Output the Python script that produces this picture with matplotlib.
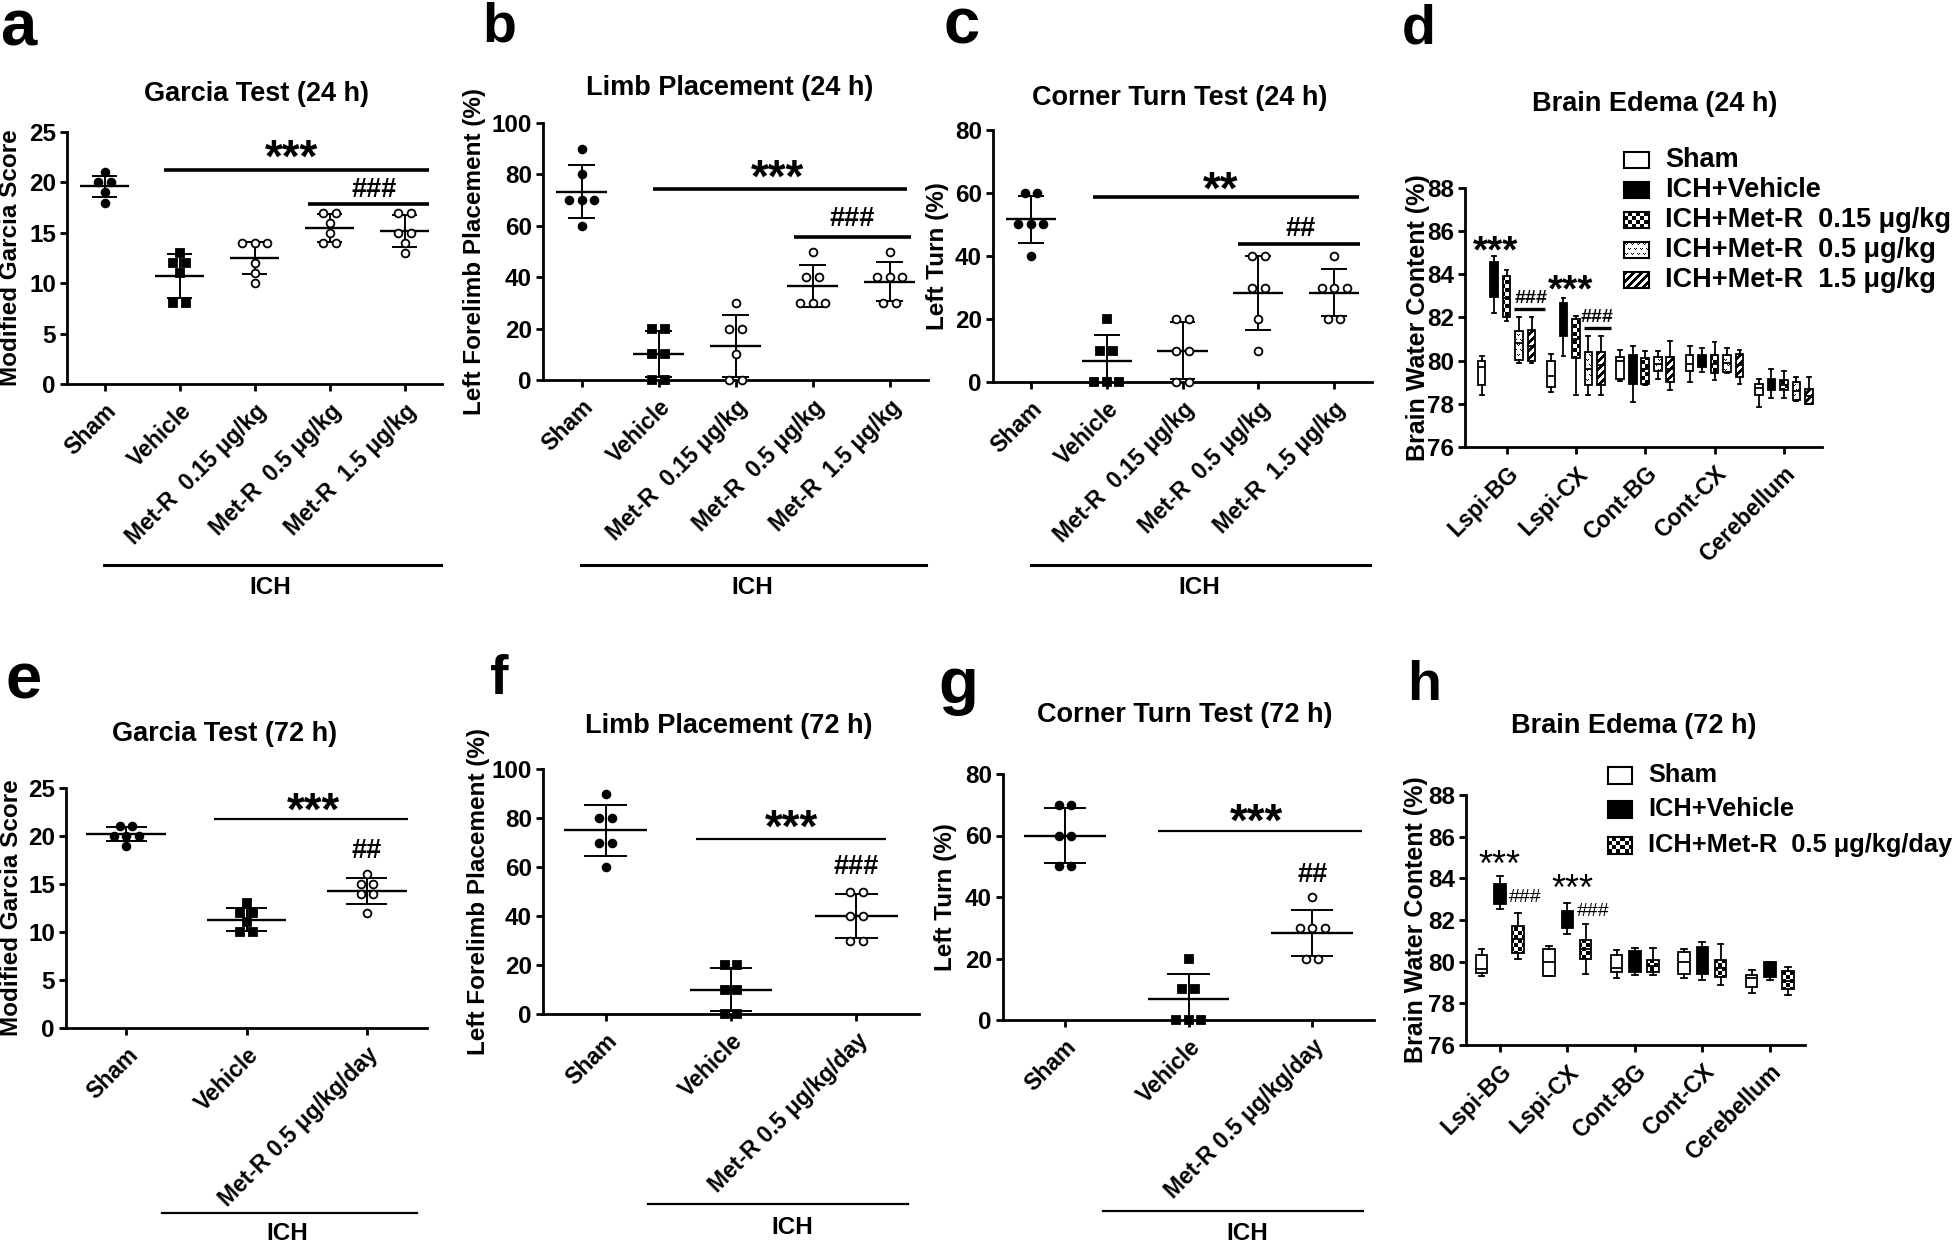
import numpy as np
import matplotlib
matplotlib.use("Agg")
import matplotlib.pyplot as plt
from matplotlib.lines import Line2D

plt.rcParams['font.family'] = ['Liberation Sans', 'DejaVu Sans']
plt.rcParams['font.weight'] = 'bold'
plt.rcParams['axes.labelweight'] = 'bold'

W, H = 1960, 1242

# ---------------- data ----------------
groups_24 = ["Sham", "Vehicle", "Met-R  0.15 μg/kg", "Met-R  0.5 μg/kg", "Met-R  1.5 μg/kg"]
groups_72 = ["Sham", "Vehicle", "Met-R 0.5 μg/kg/day"]
regions = ["Lspi-BG", "Lspi-CX", "Cont-BG", "Cont-CX", "Cerebellum"]

# a: Garcia 24 h
garcia24 = [[21, 20, 20, 19, 18], [13, 12, 12, 11, 8, 8], [14, 14, 14, 12, 11, 10],
            [17, 17, 16, 15, 14, 14], [17, 17, 15, 15, 14, 13]]
garcia24_mean = [19.6, 10.7, 12.5, 15.5, 15.2]
garcia24_sd = [1.05, 2.15, 1.6, 1.4, 1.6]
# b: limb placement 24 h
limb24 = [[90, 80, 70, 70, 70, 60], [20, 20, 10, 10, 0, 0], [30, 20, 20, 10, 0, 0],
          [50, 40, 40, 30, 30, 30], [50, 40, 40, 40, 30, 30]]
limb24_mean = [73.3, 10.0, 13.3, 36.7, 38.3]
limb24_sd = [10.3, 8.9, 12.1, 8.2, 7.5]
# c: corner turn 24 h
corner24 = [[60, 60, 50, 50, 50, 40], [20, 10, 10, 0, 0, 0], [20, 20, 10, 10, 0, 0],
            [40, 40, 30, 30, 20, 10], [40, 30, 30, 30, 20, 20]]
corner24_mean = [51.7, 6.7, 10.0, 28.3, 28.3]
corner24_sd = [7.5, 8.2, 8.9, 11.7, 7.5]
# e: Garcia 72 h
garcia72 = [[21, 21, 20, 20, 20, 19], [13, 12, 12, 11, 10, 10], [16, 15, 15, 14, 14, 12]]
garcia72_mean = [20.2, 11.3, 14.3]
garcia72_sd = [0.75, 1.2, 1.37]
# f: limb placement 72 h
limb72 = [[90, 80, 80, 70, 70, 60], [20, 20, 10, 10, 0, 0], [50, 50, 40, 40, 30, 30]]
limb72_mean = [75.0, 10.0, 40.0]
limb72_sd = [10.5, 8.9, 8.9]
# g: corner turn 72 h
corner72 = [[70, 70, 60, 60, 50, 50], [20, 10, 10, 0, 0, 0], [40, 30, 30, 30, 20, 20]]
corner72_mean = [60.0, 6.7, 28.3]
corner72_sd = [8.9, 8.2, 7.5]

# d: brain water 24 h, [region][treatment]
d_lo = [[78.4, 82.2, 81.85, 79.9, 79.9], [78.55, 80.2, 78.42, 78.42, 78.42],
        [79.05, 78.1, 78.85, 79.17, 78.64], [79.0, 79.48, 79.12, 79.45, 78.9],
        [77.87, 78.28, 78.28, 78.14, 78.01]]
d_q1 = [[78.85, 82.95, 82.0, 80.05, 80.0], [78.78, 81.15, 80.12, 78.85, 78.85],
        [79.17, 78.9, 78.9, 79.53, 79.0], [79.53, 79.71, 79.44, 79.48, 79.26],
        [78.4, 78.64, 78.64, 78.19, 78.01]]
d_med = [[79.7, 83.8, 82.9, 80.8, 80.7], [79.3, 82.0, 81.0, 79.6, 79.8],
         [80.0, 79.6, 79.6, 79.85, 79.6], [79.83, 80.0, 79.85, 79.9, 79.8],
         [78.73, 78.9, 78.85, 78.6, 78.35]]
d_q3 = [[80.0, 84.55, 83.92, 81.38, 81.4], [80.0, 82.69, 81.92, 80.38, 80.38],
        [80.15, 80.28, 80.12, 80.15, 80.15], [80.28, 80.25, 80.28, 80.28, 80.31],
        [78.9, 79.17, 79.12, 79.03, 78.69]]
d_hi = [[80.2, 84.85, 84.2, 82.0, 82.0], [80.3, 82.92, 82.05, 81.15, 81.15],
        [80.5, 80.7, 80.43, 80.43, 80.89], [80.66, 80.58, 80.86, 80.58, 80.5],
        [79.17, 79.6, 79.53, 79.26, 79.26]]
d_legend = ["Sham", "ICH+Vehicle", "ICH+Met-R  0.15 μg/kg", "ICH+Met-R  0.5 μg/kg", "ICH+Met-R  1.5 μg/kg"]

# h: brain water 72 h
h_lo = [[79.29, 82.55, 80.15], [79.29, 81.35, 79.42], [79.23, 79.38, 79.38],
        [79.23, 79.14, 78.86], [78.49, 79.14, 78.4]]
h_q1 = [[79.45, 82.78, 80.43], [79.32, 81.63, 80.15], [79.51, 79.51, 79.51],
        [79.42, 79.42, 79.27], [78.77, 79.27, 78.68]]
h_med = [[79.64, 83.3, 81.1], [80.0, 82.0, 80.62], [79.69, 80.0, 79.8],
         [80.0, 80.0, 79.7], [79.23, 79.6, 79.05]]
h_q3 = [[80.3, 83.75, 81.72], [80.62, 82.43, 81.04], [80.34, 80.52, 80.06],
        [80.47, 80.71, 80.06], [79.36, 79.97, 79.55]]
h_hi = [[80.62, 84.12, 82.33], [80.76, 82.83, 81.82], [80.56, 80.65, 80.67],
        [80.62, 80.93, 80.84], [79.6, 80.0, 79.75]]
h_legend = ["Sham", "ICH+Vehicle", "ICH+Met-R  0.5 μg/kg/day"]

fig = plt.figure(figsize=(W / 100, H / 100), dpi=100)


def add_axes_px(left, right, top, bottom):
    return fig.add_axes([left / W, 1 - bottom / H, (right - left) / W, (bottom - top) / H])


def style(ax):
    for s in ["top", "right"]:
        ax.spines[s].set_visible(False)
    for s in ["left", "bottom"]:
        ax.spines[s].set_linewidth(2)
    ax.tick_params(width=2, length=5, labelsize=17.5, pad=3)


def swarm(vals):
    # side-by-side offsets for equal values (unit spacing)
    vals = np.asarray(vals, dtype=float)
    offs = np.zeros(len(vals))
    for v in np.unique(vals):
        idx = np.where(vals == v)[0]
        offs[idx] = np.arange(len(idx)) - (len(idx) - 1) / 2
    return offs


def scatter_panel(box, groups, values, means, sds, ylim, yticks, ylabel, label_x, title, title_xy, xsize):
    left, right, top, bottom = box
    ax = add_axes_px(left, right, top, bottom)
    n = len(groups)
    ppu = (right - left) / n
    markers = ["o", "s"] + ["o"] * (n - 2)
    faces = ["k", "k"] + ["white"] * (n - 2)
    for i, vals in enumerate(values):
        x = i + swarm(vals) * 12.5 / ppu
        ax.plot(x, vals, ls="none", marker=markers[i], ms=5.6 if markers[i] == "o" else 5.4,
                mfc=faces[i], mec="k", mew=1.3, clip_on=False, zorder=4)
        m, s = means[i], sds[i]
        ax.hlines(m, i - 0.33, i + 0.33, color="k", lw=1.7, zorder=3)
        ax.vlines(i, m - s, m + s, color="k", lw=1.4, zorder=3)
        ax.hlines([m - s, m + s], i - 0.17, i + 0.17, color="k", lw=1.4, zorder=3)
    ax.set_xlim(-0.5, n - 0.5)
    ax.set_ylim(*ylim)
    ax.set_yticks(yticks)
    style(ax)
    ax.set_xticks(range(n))
    ax.set_xticklabels(groups, rotation=45, ha="right", rotation_mode="anchor", fontsize=xsize)
    ax.tick_params(axis="x", pad=6)
    ax.set_ylabel(ylabel, fontsize=17.5, va="center")
    ax.yaxis.set_label_coords((label_x - left) / (right - left), 0.5)
    fig.text(title_xy[0] / W, 1 - title_xy[1] / H, title, fontsize=19.5, ha="center", va="center")
    return ax


def mark(ax, x, y, s, size, lift, **kw):
    # y is the visual centre of the glyphs
    ax.annotate(s, (x, y), xytext=(0, -lift * size), textcoords="offset points",
                ha=kw.pop("ha", "center"), va="baseline", fontsize=size, annotation_clip=False, **kw)


def sig_line(ax, x0, x1, y, lw):
    ax.plot([x0, x1], [y, y], color="k", lw=lw, clip_on=False, solid_capstyle="butt")


def pattern(kind, w, h):
    r, c = np.mgrid[0:h, 0:w]
    if kind == "checker":
        return ((r // 4 + c // 4) % 2).astype(float)
    if kind == "stripe":
        return (((r + c) % 8) < 4).astype(float)
    cc = (c + 3 * ((r // 5) % 2)) % 6
    rr = r % 5
    return (((rr == 1) & ((cc == 1) | (cc == 3))) | ((rr == 2) & (cc == 2))).astype(float)


def box_panel(box, lo, q1, med, q3, hi, fills, offsets, width, xlim, title, title_xy, label_x):
    left, right, top, bottom = box
    ax = add_axes_px(left, right, top, bottom)
    wpx, hpx = int(round(right - left)), int(round(bottom - top))
    for j, fill in enumerate(fills):
        stats = [dict(med=med[i][j], q1=q1[i][j], q3=q3[i][j], whislo=lo[i][j], whishi=hi[i][j], fliers=[])
                 for i in range(len(regions))]
        pos = np.arange(len(regions)) + offsets[j]
        res = ax.bxp(stats, positions=pos, widths=width, patch_artist=True, showfliers=False,
                     manage_ticks=False, zorder=3,
                     boxprops=dict(facecolor="none", edgecolor="k", linewidth=1.3),
                     whiskerprops=dict(color="k", linewidth=1.3),
                     capprops=dict(color="k", linewidth=1.3),
                     medianprops=dict(color="k", linewidth=1.3))
        for patch in res["boxes"]:
            if fill in ("white", "black"):
                patch.set_facecolor(fill)
            else:
                im = ax.imshow(pattern(fill, wpx, hpx), extent=(xlim[0], xlim[1], 76, 88), cmap="gray_r",
                               vmin=0, vmax=1, aspect="auto", interpolation="nearest", zorder=2.5)
                im.set_clip_path(patch)
    ax.set_xlim(*xlim)
    ax.set_ylim(76, 88)
    ax.set_yticks(range(76, 89, 2))
    style(ax)
    ax.set_xticks(range(len(regions)))
    ax.set_xticklabels(regions, rotation=45, ha="right", rotation_mode="anchor", fontsize=16.5)
    ax.tick_params(axis="x", pad=6)
    ax.set_ylabel("Brain Water Content (%)", fontsize=18, va="center")
    ax.yaxis.set_label_coords((label_x - left) / (right - left), 0.5)
    fig.text(title_xy[0] / W, 1 - title_xy[1] / H, title, fontsize=19.5, ha="center", va="center")
    return ax


def legend_px(x, ys, labels, fills, w, h, size):
    for y, lab, fill in zip(ys, labels, fills):
        sa = fig.add_axes([x / W, 1 - (y + h / 2) / H, w / W, h / H])
        sa.set_xticks([])
        sa.set_yticks([])
        for s in sa.spines.values():
            s.set_linewidth(1.5)
        if fill in ("white", "black"):
            sa.set_facecolor(fill)
        else:
            sa.imshow(pattern(fill, int(w), int(h)), cmap="gray_r", vmin=0, vmax=1,
                      aspect="auto", interpolation="nearest")
        fig.text((x + w + 16) / W, 1 - y / H, lab, fontsize=size, ha="left", va="center")


def ich(x0, x1, y, ty, tx, lw):
    fig.add_artist(Line2D([x0 / W, x1 / W], [1 - y / H, 1 - y / H], color="k", lw=lw, transform=fig.transFigure))
    fig.text(tx / W, 1 - ty / H, "ICH", fontsize=17.5, ha="center", va="center")


# ---------------- top row ----------------
ax = scatter_panel((67, 442, 132, 384), groups_24, garcia24, garcia24_mean, garcia24_sd, (0, 25),
                   range(0, 26, 5), "Modified Garcia Score", 10, "Garcia Test (24 h)", (257, 94), 16.5)
mark(ax, 2.5, 23.7, "***", 33, 0.58)
sig_line(ax, 0.79, 4.32, 21.2, 2.6)
mark(ax, 3.6, 19.5, "###", 19.5, 0.35)
sig_line(ax, 2.71, 4.33, 17.9, 2.6)

ax = scatter_panel((543, 928, 123, 380), groups_24, limb24, limb24_mean, limb24_sd, (0, 100),
                   range(0, 101, 20), "Left Forelimb Placement (%)", 474, "Limb Placement (24 h)", (730, 88), 16.5)
mark(ax, 2.55, 83.5, "***", 33, 0.58)
sig_line(ax, 0.93, 4.23, 74.4, 2.6)
mark(ax, 3.51, 63.6, "###", 19.5, 0.35)
sig_line(ax, 2.76, 4.28, 55.8, 2.6)

ax = scatter_panel((993, 1372, 130, 382), groups_24, corner24, corner24_mean, corner24_sd, (0, 80),
                   range(0, 81, 20), "Left Turn (%)", 937, "Corner Turn Test (24 h)", (1180, 98), 16.5)
mark(ax, 2.51, 65.2, "**", 33, 0.58)
sig_line(ax, 0.82, 4.33, 58.7, 2.6)
mark(ax, 3.56, 49.2, "##", 19.5, 0.35)
sig_line(ax, 2.73, 4.34, 43.9, 2.6)

ax = box_panel((1465, 1822, 188, 447), d_lo, d_q1, d_med, d_q3, d_hi,
               ["white", "black", "checker", "dots", "stripe"], [-0.36, -0.18, 0, 0.18, 0.36], 0.11,
               (-0.6, 4.55), "Brain Edema (24 h)", (1655, 104), 1418)
mark(ax, -0.16, 85.6, "***", 28, 0.58)
mark(ax, 0.92, 83.8, "***", 28, 0.58)
mark(ax, 0.35, 83.0, "###", 14, 0.35)
sig_line(ax, 0.1, 0.56, 82.38, 2.4)
mark(ax, 1.31, 82.1, "###", 14, 0.35)
sig_line(ax, 1.12, 1.5, 81.5, 2.4)
legend_px(1624, [160, 190, 220, 250, 280], d_legend, ["white", "black", "checker", "dots", "stripe"], 25, 16, 19.5)

for x0, x1, tx in [(104, 441, 270), (581, 926, 752), (1031, 1370, 1199)]:
    ich(x0, x1, 565, 588, tx, 2.2)

# ---------------- bottom row ----------------
ax = scatter_panel((66, 427, 788, 1028), groups_72, garcia72, garcia72_mean, garcia72_sd, (0, 25),
                   range(0, 26, 5), "Modified Garcia Score", 11, "Garcia Test (72 h)", (225, 734), 16.5)
mark(ax, 1.56, 23.9, "***", 33, 0.58)
sig_line(ax, 0.73, 2.34, 21.8, 1.6)
mark(ax, 2.0, 18.7, "##", 19.5, 0.35)

ax = scatter_panel((543, 919, 769, 1014), groups_72, limb72, limb72_mean, limb72_sd, (0, 100),
                   range(0, 101, 20), "Left Forelimb Placement (%)", 479, "Limb Placement (72 h)", (729, 726), 16.5)
mark(ax, 1.48, 81.3, "***", 33, 0.58)
sig_line(ax, 0.72, 2.24, 71.4, 1.6)
mark(ax, 2.0, 61.0, "###", 19.5, 0.35)

ax = scatter_panel((1003, 1374, 774, 1020), groups_72, corner72, corner72_mean, corner72_sd, (0, 80),
                   range(0, 81, 20), "Left Turn (%)", 945, "Corner Turn Test (72 h)", (1185, 715), 16.5)
mark(ax, 1.55, 68.5, "***", 33, 0.58)
sig_line(ax, 0.75, 2.4, 61.4, 1.6)
mark(ax, 2.0, 48.0, "##", 19.5, 0.35)

ax = box_panel((1466, 1805, 795, 1045), h_lo, h_q1, h_med, h_q3, h_hi,
               ["white", "black", "checker"], [-0.27, 0, 0.27], 0.17,
               (-0.5, 4.52), "Brain Edema (72 h)", (1634, 726), 1416)
mark(ax, 0.0, 85.1, "***", 26, 0.58, fontweight="normal")
mark(ax, 1.07, 83.95, "***", 26, 0.58, fontweight="normal")
mark(ax, 0.13, 83.2, "###", 14, 0.35, ha="left", fontweight="normal")
mark(ax, 1.14, 82.5, "###", 14, 0.35, ha="left", fontweight="normal")
legend_px(1608, [775, 809, 845], h_legend, ["white", "black", "checker"], 24, 17, 18.3)

for x0, x1, y, ty, tx in [(162, 417, 1213, 1233, 287), (648, 908, 1204, 1228, 792), (1103, 1363, 1211, 1233, 1247)]:
    ich(x0, x1, y, ty, tx, 1.6)

# panel letters (left x, baseline y)
for lab, x, y, size in [("a", 0, 46, 47), ("b", 482, 42, 40), ("c", 943, 44, 47), ("d", 1402, 44, 40),
                        ("e", 6, 698, 47), ("f", 490, 694, 40), ("g", 938, 703, 47), ("h", 1407, 700, 40)]:
    fig.text(x / W, 1 - y / H, lab, fontsize=size, ha="left", va="baseline")

fig.savefig("out.png", dpi=100)
